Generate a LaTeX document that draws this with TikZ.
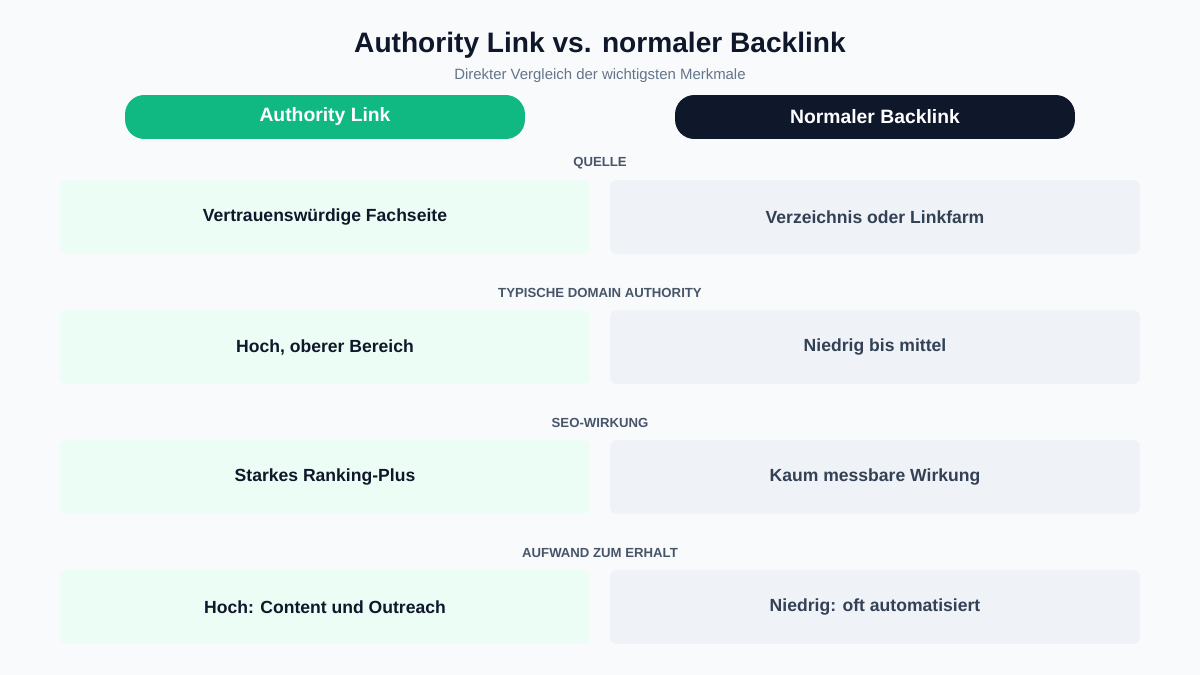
\documentclass[tikz,border=0pt]{standalone}
\usepackage{fontspec}
\setmainfont{Liberation Sans}
\usetikzlibrary{positioning}
\definecolor{bgpage}{HTML}{F8FAFC}
\definecolor{authgreen}{HTML}{10B981}
\definecolor{navy}{HTML}{0F172A}
\definecolor{cellgreen}{HTML}{ECFDF5}
\definecolor{cellgrey}{HTML}{EFF2F7}
\definecolor{slate}{HTML}{334155}
\definecolor{slatelight}{HTML}{475569}
\definecolor{subgrey}{HTML}{64748B}
\tikzset{
  pill/.style={rounded corners=11pt, minimum width=8cm, minimum height=0.88cm, text=white, font=\fontsize{11}{13}\selectfont\bfseries},
  cell/.style={rounded corners=4pt, minimum width=10.6cm, minimum height=1.48cm, font=\fontsize{10}{12}\selectfont\bfseries},
  authcell/.style={cell, fill=cellgreen, text=navy},
  normcell/.style={cell, fill=cellgrey, text=slate},
  section/.style={text=slatelight, font=\fontsize{7.5}{9}\selectfont\bfseries}
}
\begin{document}
\begin{tikzpicture}[x=0.02cm, y=-0.02cm]
  \fill[bgpage] (0,0) rectangle (1200,675);
  \useasboundingbox (0,0) rectangle (1200,675);

  \node[text=navy, font=\fontsize{16}{19}\selectfont\bfseries] (title) at (600,45) {Authority Link vs. normaler Backlink};
  \node[text=subgrey, font=\fontsize{8.5}{10}\selectfont] (subtitle) at (600,76) {Direkter Vergleich der wichtigsten Merkmale};

  \node[pill, fill=authgreen] (headauth) at (325,117) {Authority Link};
  \node[pill, fill=navy] (headnorm) at (875,117) {Normaler Backlink};

  % Zeilen
  \foreach \i/\lab/\left/\right in {
      0/QUELLE/Vertrauenswürdige Fachseite/Verzeichnis oder Linkfarm,
      1/TYPISCHE DOMAIN AUTHORITY/{Hoch, oberer Bereich}/Niedrig bis mittel,
      2/SEO-WIRKUNG/Starkes Ranking-Plus/Kaum messbare Wirkung,
      3/AUFWAND ZUM ERHALT/{Hoch: Content und Outreach}/{Niedrig: oft automatisiert}} {
    \node[section] (sec\i) at (600,163+130*\i) {\lab};
    \node[authcell] (auth\i) at (325,217+130*\i) {\left};
    \node[normcell] (norm\i) at (875,217+130*\i) {\right};
  }
\end{tikzpicture}
\end{document}
